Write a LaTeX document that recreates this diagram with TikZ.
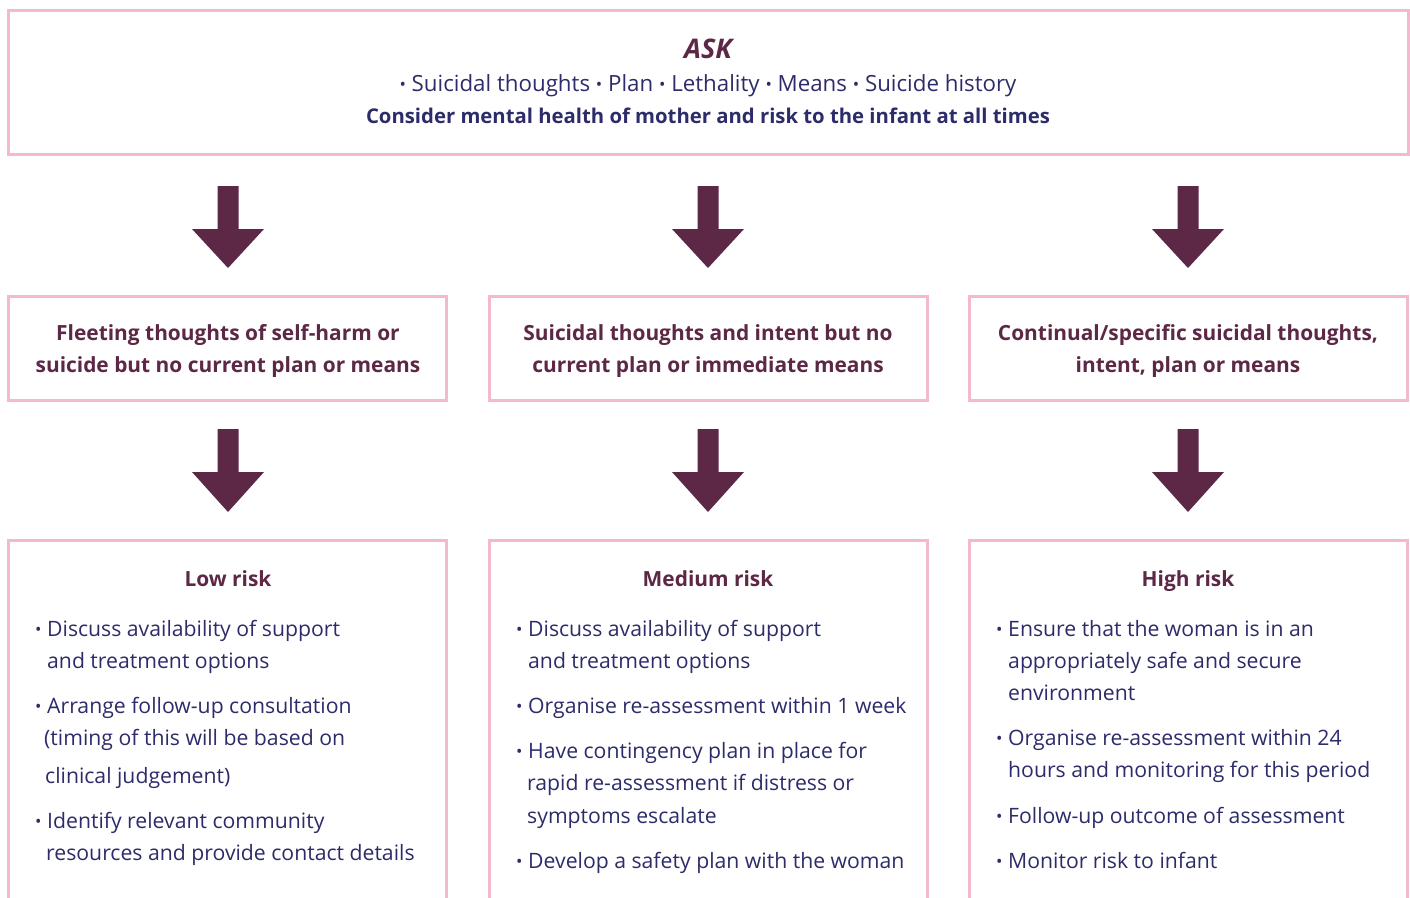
\documentclass[tikz,border=0pt]{standalone}
\usepackage{fontspec}
\setmainfont{Open Sans}
\usetikzlibrary{calc}
\definecolor{pinkb}{HTML}{F4B9CE}
\definecolor{maroon}{HTML}{5C2846}
\definecolor{navy}{HTML}{2D2C6A}
\newcommand\bul{\makebox[12pt][l]{\fontsize{17}{17}\selectfont\raisebox{0.5pt}{•}}}
\newcommand\sbul{{\fontsize{17}{17}\selectfont\raisebox{0.5pt}{•}}}
\newcommand\blockarrow[2]{%
  \fill[arr] ($(#1)+(-10.5,0)$) -- ($(#1)+(10.5,0)$) -- ($(#1)+(10.5,-43)$) -- ($(#1)+(36,-43)$)
    -- ($(#1)+(0,-#2)$) -- ($(#1)+(-36,-43)$) -- ($(#1)+(-10.5,-43)$) -- cycle;}
\begin{document}
\begin{tikzpicture}[x=1pt,y=1pt,
  box/.style={draw=pinkb, line width=3pt, inner sep=0pt},
  txt/.style={text=navy, inner sep=0pt, anchor=base west, font=\fontsize{21.2}{24}\selectfont},
  ctr/.style={text=navy, inner sep=0pt, anchor=base, font=\fontsize{21.2}{24}\selectfont},
  ttl/.style={text=maroon, inner sep=0pt, anchor=base, font=\fontsize{20.9}{24}\selectfont\bfseries},
  arr/.style={fill=maroon}]
\useasboundingbox (0,0) rectangle (1410,-897);
\clip (0,0) rectangle (1410,-897);
\fill[white] (0,0) rectangle (1410,-897);
% boxes
\node[box, minimum width=1400, minimum height=144] (ask) at (708.5,-82) {};
\node[box, minimum width=438, minimum height=104] (m1) at (227.5,-348.5) {};
\node[box, minimum width=438, minimum height=104] (m2) at (708,-348.5) {};
\node[box, minimum width=438, minimum height=104] (m3) at (1188.5,-348.5) {};
\node[box, minimum width=438, minimum height=420] (b1) at (227.5,-750) {};
\node[box, minimum width=438, minimum height=420] (b2) at (708,-750) {};
\node[box, minimum width=438, minimum height=420] (b3) at (1188.5,-750) {};
% arrows
\coordinate (a1) at (228,-186);
\coordinate (a2) at (708,-186);
\coordinate (a3) at (1188,-186);
\coordinate (c1) at (228,-429);
\coordinate (c2) at (708,-429);
\coordinate (c3) at (1188,-429);
\blockarrow{a1}{82}
\blockarrow{a2}{82}
\blockarrow{a3}{82}
\blockarrow{c1}{83}
\blockarrow{c2}{83}
\blockarrow{c3}{83}
% top text
\node[ttl, font=\fontsize{27}{30}\selectfont\bfseries\itshape] (askt) at (708,-58) {ASK};
\node[ctr, font=\fontsize{22.3}{24}\selectfont] (asks) at (708,-91) {\sbul\ Suicidal thoughts \sbul\ Plan \sbul\ Lethality \sbul\ Means \sbul\ Suicide history};
\node[ctr, font=\fontsize{20.3}{24}\selectfont\bfseries] (askc) at (708,-123) {Consider mental health of mother and risk to the infant at all times};
% middle texts
\node[ttl] (m1a) at (228,-340) {Fleeting thoughts of self-harm or};
\node[ttl] (m1b) at (228,-372) {suicide but no current plan or means};
\node[ttl] (m2a) at (708,-340) {Suicidal thoughts and intent but no};
\node[ttl] (m2b) at (708,-372) {current plan or immediate means};
\node[ttl] (m3a) at (1188,-340) {Continual/specific suicidal thoughts,};
\node[ttl] (m3b) at (1188,-372) {intent, plan or means};
% headings
\node[ttl] (h1) at (228,-586) {Low risk};
\node[ttl] (h2) at (708,-586) {Medium risk};
\node[ttl] (h3) at (1188,-586) {High risk};
% low
\node[txt] (l1) at (35,-636) {\bul Discuss availability of support};
\node[txt] (l2) at (47,-668) {and treatment options};
\node[txt] (l3) at (35,-713) {\bul Arrange follow-up consultation};
\node[txt] (l4) at (44,-745) {(timing of this will be based on};
\node[txt] (l5) at (45,-783) {clinical judgement)};
\node[txt] (l6) at (35,-828) {\bul Identify relevant community};
\node[txt] (l7) at (46,-860) {resources and provide contact details};
% medium
\node[txt] (d1) at (516,-636) {\bul Discuss availability of support};
\node[txt] (d2) at (528,-668) {and treatment options};
\node[txt] (d3) at (516,-713) {\bul Organise re-assessment within 1 week};
\node[txt] (d4) at (516,-758) {\bul Have contingency plan in place for};
\node[txt] (d5) at (527,-790) {rapid re-assessment if distress or};
\node[txt] (d6) at (527,-823) {symptoms escalate};
\node[txt] (d7) at (516,-868) {\bul Develop a safety plan with the woman};
% high
\node[txt] (g1) at (996,-636) {\bul Ensure that the woman is in an};
\node[txt] (g2) at (1008,-668) {appropriately safe and secure};
\node[txt] (g3) at (1008,-700) {environment};
\node[txt] (g4) at (996,-745) {\bul Organise re-assessment within 24};
\node[txt] (g5) at (1008,-777) {hours and monitoring for this period};
\node[txt] (g6) at (996,-823) {\bul Follow-up outcome of assessment};
\node[txt] (g7) at (996,-868) {\bul Monitor risk to infant};
\end{tikzpicture}
\end{document}
